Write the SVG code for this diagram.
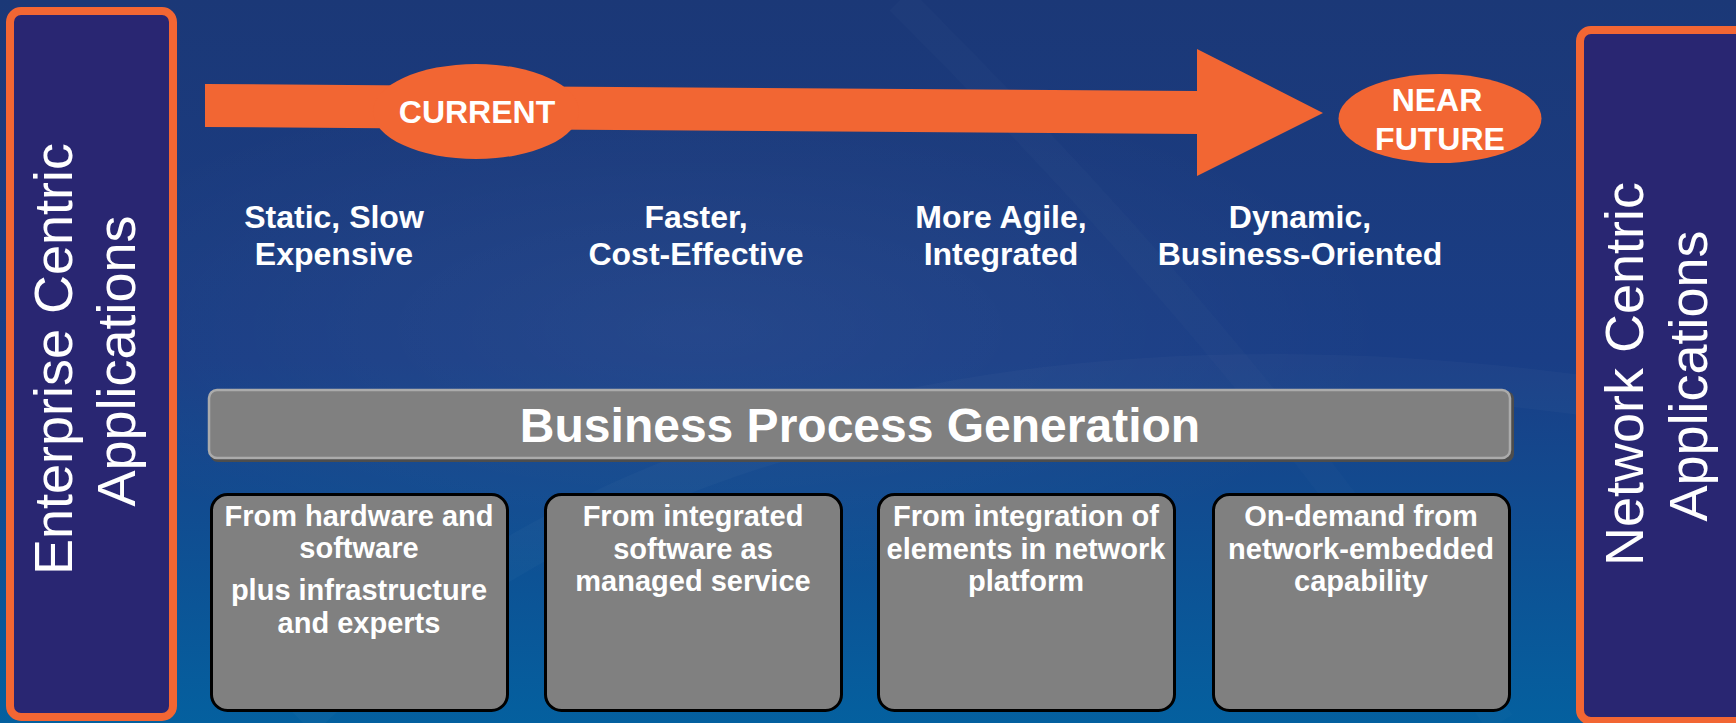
<svg xmlns="http://www.w3.org/2000/svg" width="1736" height="723" viewBox="0 0 1736 723">
  <defs>
    <linearGradient id="bg" x1="0" y1="0" x2="0" y2="1">
      <stop offset="0" stop-color="#1b3877"/>
      <stop offset="0.5" stop-color="#1a3e86"/>
      <stop offset="1" stop-color="#04609f"/>
    </linearGradient>
    <radialGradient id="glow" cx="0.5" cy="0.5" r="0.5">
      <stop offset="0" stop-color="#ffffff" stop-opacity="0.05"/>
      <stop offset="1" stop-color="#ffffff" stop-opacity="0"/>
    </radialGradient>
  </defs>
  <style>
    .side { fill: #292672; stroke: #f26633; stroke-width: 8; }
    .sidetxt { font-family: "Liberation Sans", Arial, sans-serif; font-size: 54px; fill: #ffffff; text-anchor: middle; }
    .lbl { font-family: "Liberation Sans", Arial, sans-serif; font-weight: bold; font-size: 32px; fill: #ffffff; text-anchor: middle; }
    .orange { fill: #f26633; }
    .box { fill: #808080; stroke: #000000; stroke-width: 3; }
    .boxtxt { font-family: "Liberation Sans", Arial, sans-serif; font-weight: bold; font-size: 29px; fill: #ffffff; text-anchor: middle; }
    .bartxt { font-family: "Liberation Sans", Arial, sans-serif; font-weight: bold; font-size: 48px; fill: #ffffff; text-anchor: middle; }
  </style>

  <rect x="0" y="0" width="1736" height="723" fill="url(#bg)"/>
  <ellipse cx="700" cy="330" rx="700" ry="260" fill="url(#glow)"/>
  <path d="M 300 720 C 600 420, 1100 300, 1736 420" fill="none" stroke="#ffffff" stroke-opacity="0.025" stroke-width="40"/>
  <path d="M 900 0 C 1100 200, 1300 420, 1500 723" fill="none" stroke="#ffffff" stroke-opacity="0.015" stroke-width="30"/>

  <g id="enterprise-centric">
    <rect class="side" x="10" y="11" width="163" height="706" rx="11" ry="11"/>
    <text class="sidetxt" transform="translate(72,359) rotate(-90)">Enterprise Centric</text>
    <text class="sidetxt" transform="translate(135,361) rotate(-90)">Applications</text>
  </g>

  <g id="network-centric">
    <rect class="side" x="1580" y="30" width="200" height="691" rx="11" ry="11"/>
    <text class="sidetxt" transform="translate(1643,374) rotate(-90)">Network Centric</text>
    <text class="sidetxt" transform="translate(1707,376) rotate(-90)">Applications</text>
  </g>

  <g id="connectors">
    <polygon class="orange" points="205,84 1197,91 1197,49 1323,113 1197,176 1197,134 205,127"/>
  </g>

  <g id="current">
    <ellipse class="orange" cx="476" cy="111.5" rx="103" ry="47.5"/>
    <text class="lbl" x="477" y="123">CURRENT</text>
  </g>

  <g id="near-future">
    <ellipse class="orange" cx="1440" cy="118.5" rx="101.5" ry="44.5"/>
    <text class="lbl" x="1437" y="111">NEAR</text>
    <text class="lbl" x="1440" y="150">FUTURE</text>
  </g>

  <g id="stage-1">
    <text class="lbl" x="334" y="228">Static, Slow</text>
    <text class="lbl" x="334" y="265">Expensive</text>
  </g>
  <g id="stage-2">
    <text class="lbl" x="696" y="228">Faster,</text>
    <text class="lbl" x="696" y="265">Cost-Effective</text>
  </g>
  <g id="stage-3">
    <text class="lbl" x="1001" y="228">More Agile,</text>
    <text class="lbl" x="1001" y="265">Integrated</text>
  </g>
  <g id="stage-4">
    <text class="lbl" x="1300" y="228">Dynamic,</text>
    <text class="lbl" x="1300" y="265">Business-Oriented</text>
  </g>

  <g id="business-process-generation">
    <rect x="210" y="391" width="1304" height="71" rx="8" ry="8" fill="#4d4d4d"/>
    <rect x="209" y="390" width="1301" height="68" rx="8" ry="8" fill="#808080" stroke="#ababab" stroke-width="2.5"/>
    <text class="bartxt" x="860" y="442">Business Process Generation</text>
  </g>

  <g id="box-1">
    <rect class="box" x="211.5" y="494.5" width="296" height="216" rx="16" ry="16"/>
    <text class="boxtxt" x="359" y="526">From hardware and</text>
    <text class="boxtxt" x="359" y="558">software</text>
    <text class="boxtxt" x="359" y="600">plus infrastructure</text>
    <text class="boxtxt" x="359" y="633">and experts</text>
  </g>
  <g id="box-2">
    <rect class="box" x="545.5" y="494.5" width="296" height="216" rx="16" ry="16"/>
    <text class="boxtxt" x="693" y="526">From integrated</text>
    <text class="boxtxt" x="693" y="559">software as</text>
    <text class="boxtxt" x="693" y="591">managed service</text>
  </g>
  <g id="box-3">
    <rect class="box" x="878.5" y="494.5" width="296" height="216" rx="16" ry="16"/>
    <text class="boxtxt" x="1026" y="526">From integration of</text>
    <text class="boxtxt" x="1026" y="559">elements in network</text>
    <text class="boxtxt" x="1026" y="591">platform</text>
  </g>
  <g id="box-4">
    <rect class="box" x="1213.5" y="494.5" width="296" height="216" rx="16" ry="16"/>
    <text class="boxtxt" x="1361" y="526">On-demand from</text>
    <text class="boxtxt" x="1361" y="559">network-embedded</text>
    <text class="boxtxt" x="1361" y="591">capability</text>
  </g>
</svg>
